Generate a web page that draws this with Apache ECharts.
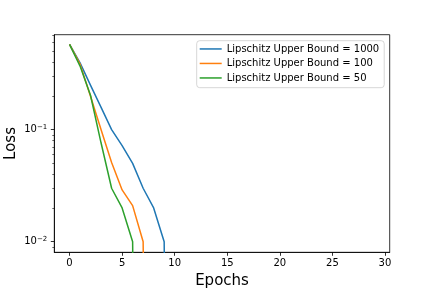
<!DOCTYPE html>
<html>
<head>
<meta charset="utf-8">
<script src="https://cdn.jsdelivr.net/npm/echarts@6/dist/echarts.min.js"></script>
<style>html,body{margin:0;padding:0;background:#fff}#c{width:432px;height:288px}</style>
</head>
<body>
<div id="c"></div>
<script>
const seriesNames = ['Lipschitz Upper Bound = 1000', 'Lipschitz Upper Bound = 100', 'Lipschitz Upper Bound = 50'];
const epochs1000 = [0, 1, 2, 3, 4, 5, 6, 7, 8, 9, 10];
const loss1000 = [0.578, 0.395, 0.249, 0.158, 0.100, 0.072, 0.050, 0.030, 0.020, 0.010, 0];
const epochs100 = [0, 1, 2, 3, 4, 5, 6, 7, 8];
const loss100 = [0.578, 0.385, 0.198, 0.100, 0.051, 0.029, 0.021, 0.010, 0];
const epochs50 = [0, 1, 2, 3, 4, 5, 6, 7];
const loss50 = [0.578, 0.370, 0.202, 0.076, 0.030, 0.020, 0.010, 0];
const xTicks = [0, 5, 10, 15, 20, 25, 30];
const yMajorTicks = [0.01, 0.1];
const yMinorTicks = [0.009, 0.02, 0.03, 0.04, 0.05, 0.06, 0.07, 0.08, 0.09, 0.2, 0.3, 0.4, 0.5, 0.6, 0.7];
const colors = ['#1f77b4', '#ff7f0e', '#2ca02c'];

// zero loss cannot be shown on a log axis: clip it far below the visible range (as matplotlib does)
const FLOOR = 1e-12;
function pts(xs, ys) { return xs.map((x, i) => [x, ys[i] > 0 ? ys[i] : FLOOR]); }

const FONT = 'DejaVu Sans';
const yMin = 0.00804, yMax = 0.705;
const chart = echarts.init(document.getElementById('c'), null, {renderer: 'canvas'});
chart.setOption({
  animation: false,
  color: colors,
  textStyle: {fontFamily: FONT, color: '#000'},
  grid: {left: 54.3, right: 42.3, top: 34.7, bottom: 35.7, show: true, borderColor: '#000', borderWidth: 0.8,
         containLabel: false, outerBoundsMode: 'none'},
  legend: {
    orient: 'vertical', left: 196.7, top: 40.7,
    icon: 'rect', itemWidth: 22, itemHeight: 1.5, itemGap: 0,
    padding: [1, 5, 2.5, 3],
    borderColor: '#cccccc', borderWidth: 0.8, borderRadius: 3,
    backgroundColor: 'rgba(255,255,255,0.8)',
    textStyle: {fontFamily: FONT, fontSize: 10, color: '#000', lineHeight: 14.5},
    data: seriesNames
  },
  xAxis: {
    type: 'value', min: -1.45, max: 30.45,
    name: 'Epochs', nameLocation: 'middle', nameGap: 21.5, nameMoveOverlap: false,
    nameTextStyle: {fontFamily: FONT, fontSize: 15, color: '#000'},
    axisLine: {show: true, onZero: false, lineStyle: {color: '#000', width: 0.8}},
    axisTick: {show: true, length: 3.5, lineStyle: {color: '#000', width: 0.8}, customValues: xTicks},
    axisLabel: {fontFamily: FONT, fontSize: 10, color: '#000', margin: 6, customValues: xTicks},
    splitLine: {show: false}
  },
  yAxis: [{
    type: 'log', logBase: 10, min: yMin, max: yMax,
    name: 'Loss', nameLocation: 'middle', nameGap: 36, nameRotate: 90, nameMoveOverlap: false,
    nameTextStyle: {fontFamily: FONT, fontSize: 15, color: '#000'},
    axisLine: {show: true, onZero: false, lineStyle: {color: '#000', width: 0.8}},
    axisTick: {show: true, length: 3.5, lineStyle: {color: '#000', width: 0.8}, customValues: yMajorTicks},
    axisLabel: {
      fontFamily: FONT, fontSize: 10, color: '#000', margin: 7, customValues: yMajorTicks,
      formatter: v => '10{sup|−' + (-Math.round(Math.log10(v))) + '}',
      rich: {sup: {fontFamily: FONT, fontSize: 7, color: '#000', verticalAlign: 'top', padding: [0, 0, 5, 0]}}
    },
    splitLine: {show: false}
  }, {
    type: 'log', logBase: 10, min: yMin, max: yMax, position: 'left',
    axisLine: {show: false, onZero: false},
    axisTick: {show: true, length: 2, lineStyle: {color: '#000', width: 0.6}, customValues: yMinorTicks},
    axisLabel: {show: false},
    splitLine: {show: false}
  }],
  series: [
    {name: seriesNames[0], type: 'line', data: pts(epochs1000, loss1000)},
    {name: seriesNames[1], type: 'line', data: pts(epochs100, loss100)},
    {name: seriesNames[2], type: 'line', data: pts(epochs50, loss50)}
  ].map(s => Object.assign(s, {showSymbol: false, symbol: 'none', clip: true, lineStyle: {width: 1.5}}))
});
</script>
</body>
</html>
